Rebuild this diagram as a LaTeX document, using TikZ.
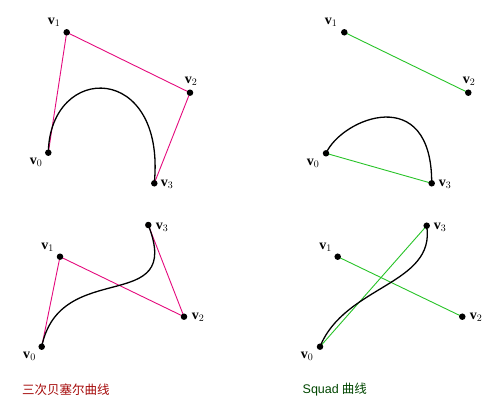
\documentclass[tikz,border=0pt]{standalone}
\usepackage{fontspec}
\setmainfont{Liberation Serif}
\newfontfamily\cjk{Noto Sans CJK SC}
\newfontfamily\capsans{Liberation Sans}
\definecolor{pinkline}{RGB}{228,10,125}
\definecolor{greenline}{RGB}{40,195,40}
\definecolor{capred}{RGB}{165,10,10}
\definecolor{capgreen}{RGB}{0,70,0}
\begin{document}
\begin{tikzpicture}[x=1pt,y=-1pt,
  pt/.style={circle,fill=black,inner sep=0pt,minimum size=6.5pt},
  lab/.style={inner sep=0pt,font=\fontsize{14}{14}\selectfont\bfseries},
  pinkseg/.style={draw=pinkline,line width=0.9pt},
  greenseg/.style={draw=greenline,line width=0.9pt},
  curve/.style={draw=black,line width=1.3pt}]
\useasboundingbox (0,0) rectangle (500,406);
% ---------- top left ----------
\coordinate (a0) at (48.3,152.7);
\coordinate (a1) at (66.7,32.3);
\coordinate (a2) at (190,92.7);
\coordinate (a3) at (154.3,183.3);
\draw[pinkseg] (a0) -- (a1) -- (a2) -- (a3);
\draw[curve] (a0) .. controls (50,62) and (166,62) .. (a3);
\node[pt] (pa0) at (a0) {};
\node[pt] (pa1) at (a1) {};
\node[pt] (pa2) at (a2) {};
\node[pt] (pa3) at (a3) {};
\node[lab] (la0) at (36,162.5) {v$_0$};
\node[lab] (la1) at (54,22.5) {v$_1$};
\node[lab] (la2) at (191,81.5) {v$_2$};
\node[lab] (la3) at (167,184) {v$_3$};
% ---------- top right ----------
\coordinate (b0) at (326,153.3);
\coordinate (b1) at (344.3,32.3);
\coordinate (b2) at (468.3,92.7);
\coordinate (b3) at (431.7,183.3);
\draw[greenseg] (b1) -- (b2);
\draw[greenseg] (b0) -- (b3);
\draw[curve] (b0) .. controls (342,118) and (432,82) .. (b3);
\node[pt] (pb0) at (b0) {};
\node[pt] (pb1) at (b1) {};
\node[pt] (pb2) at (b2) {};
\node[pt] (pb3) at (b3) {};
\node[lab] (lb0) at (313,163) {v$_0$};
\node[lab] (lb1) at (331,22.5) {v$_1$};
\node[lab] (lb2) at (469,81.5) {v$_2$};
\node[lab] (lb3) at (445,184) {v$_3$};
% ---------- bottom left ----------
\coordinate (c0) at (41.7,346.7);
\coordinate (c1) at (60,256.7);
\coordinate (c2) at (184,316.7);
\coordinate (c3) at (148.3,225);
\draw[pinkseg] (c0) -- (c1) -- (c2) -- (c3);
\draw[curve] (c0) .. controls (c1) and (c2) .. (c3);
\node[pt] (pc0) at (c0) {};
\node[pt] (pc1) at (c1) {};
\node[pt] (pc2) at (c2) {};
\node[pt] (pc3) at (c3) {};
\node[lab] (lc0) at (29.5,356) {v$_0$};
\node[lab] (lc1) at (47.5,247) {v$_1$};
\node[lab] (lc2) at (198,317) {v$_2$};
\node[lab] (lc3) at (162,227) {v$_3$};
\node[anchor=west,inner sep=0pt,text=capred,font=\cjk\fontsize{12.5}{12.5}\selectfont] (capL) at (22,390) {三次贝塞尔曲线};
% ---------- bottom right ----------
\coordinate (d0) at (320,346.7);
\coordinate (d1) at (337.7,256.7);
\coordinate (d2) at (462.3,316.7);
\coordinate (d3) at (426.7,225.7);
\draw[greenseg] (d1) -- (d2);
\draw[greenseg] (d0) -- (d3);
\draw[curve] (d0) .. controls (345,285) and (436,285) .. (d3);
\node[pt] (pd0) at (d0) {};
\node[pt] (pd1) at (d1) {};
\node[pt] (pd2) at (d2) {};
\node[pt] (pd3) at (d3) {};
\node[lab] (ld0) at (307,356) {v$_0$};
\node[lab] (ld1) at (325.5,247) {v$_1$};
\node[lab] (ld2) at (476,317) {v$_2$};
\node[lab] (ld3) at (440,227) {v$_3$};
\node[anchor=west,inner sep=0pt,text=capgreen,font=\fontsize{12.5}{12.5}\selectfont] (capR) at (302.5,390) {{\capsans Squad} {\cjk 曲线}};
\end{tikzpicture}
\end{document}
